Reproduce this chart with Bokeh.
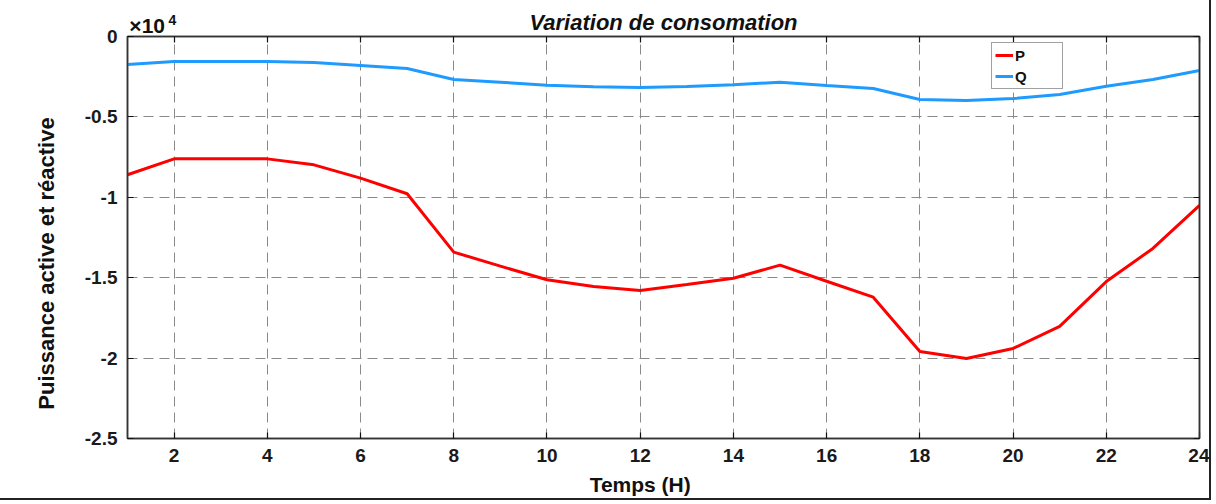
import numpy as np
from bokeh.plotting import figure
from bokeh.models import Range1d, LinearAxis, FixedTicker, Label, Legend, LegendItem, Grid
from bokeh.embed import file_html
from bokeh.resources import INLINE

# ---- data ----
hours = list(range(1, 25))
P = [-8600, -7610, -7610, -7610, -7980, -8810, -9780, -13410, -14280, -15130,
     -15550, -15800, -15420, -15030, -14220, -15220, -16210, -19590, -20020,
     -19400, -18030, -15240, -13180, -10500]
Q = [-1740, -1550, -1550, -1550, -1620, -1800, -1990, -2670, -2840, -3030,
     -3130, -3170, -3110, -3000, -2840, -3050, -3230, -3920, -3980, -3860,
     -3610, -3100, -2670, -2110]
x_ticks = [2, 4, 6, 8, 10, 12, 14, 16, 18, 20, 22, 24]
y_ticks = [-25000, -20000, -15000, -10000, -5000, 0]
y_tick_labels = ["-2.5", "-2", "-1.5", "-1", "-0.5", "0"]
title_text = "Variation de consomation"
x_label = "Temps (H)"
y_label = "Puissance active et réactive"
exp_text = "×10"
exp_sup = "4"

FONT = "Liberation Sans"
AX = "#333333"
TXT = "#111111"

W, H = 1211, 500
p = figure(width=W, height=H, output_backend="svg", toolbar_location=None,
           x_range=Range1d(1, 24), y_range=Range1d(-25000, 0),
           min_border_left=127, min_border_right=12, min_border_top=36,
           min_border_bottom=62, x_axis_location=None, y_axis_location=None)
# remove the figure's default grids before adding our own
p.xgrid.visible = False
p.ygrid.visible = False
p.styles = {"border-right": "2px solid #222222", "border-bottom": "2px solid #222222"}
p.outline_line_color = AX
p.outline_line_width = 1.5

def style_axis(ax):
    ax.axis_line_color = AX
    ax.axis_line_width = 1.5
    ax.major_tick_in = 6
    ax.major_tick_out = 0
    ax.major_tick_line_color = "#111111"
    ax.major_tick_line_width = 1.2
    ax.minor_tick_line_color = None
    ax.major_label_text_font = FONT
    ax.major_label_text_font_style = "bold"
    ax.major_label_text_font_size = "19px"
    ax.major_label_text_color = "#1a1a1a"
    ax.major_label_standoff = 10

xb = LinearAxis(ticker=FixedTicker(ticks=x_ticks))
style_axis(xb)
p.add_layout(xb, "below")
xt = LinearAxis(ticker=FixedTicker(ticks=x_ticks))
style_axis(xt)
xt.major_label_overrides = {t: "" for t in x_ticks}
xt.major_label_standoff = 0
p.add_layout(xt, "above")

yl = LinearAxis(ticker=FixedTicker(ticks=y_ticks))
style_axis(yl)
yl.major_label_overrides = {t: s for t, s in zip(y_ticks, y_tick_labels)}
p.add_layout(yl, "left")
yr = LinearAxis(ticker=FixedTicker(ticks=y_ticks))
style_axis(yr)
yr.major_label_overrides = {t: "" for t in y_ticks}
yr.major_label_standoff = 0
p.add_layout(yr, "right")

p.add_layout(Grid(dimension=0, ticker=xb.ticker, grid_line_color="#8a8a8a",
                  grid_line_dash="10 6", grid_line_width=1))
p.add_layout(Grid(dimension=1, ticker=yl.ticker, grid_line_color="#8a8a8a",
                  grid_line_dash="10 6", grid_line_width=1))

rp = p.line(hours, P, line_color="#ff0000", line_width=3)
rq = p.line(hours, Q, line_color="#1f9bff", line_width=3)

legend = Legend(items=[LegendItem(label="P", renderers=[rp]),
                       LegendItem(label="Q", renderers=[rq])],
                location=(864, 349), orientation="vertical",
                label_text_font=FONT, label_text_font_style="bold",
                label_text_font_size="15px", label_text_color=TXT,
                glyph_width=18, glyph_height=18, label_height=18, label_width=44,
                label_standoff=2, spacing=3, padding=3, margin=0,
                border_line_color="#444444", border_line_width=1,
                background_fill_color="white", background_fill_alpha=1)
p.add_layout(legend, "center")

# titles and labels placed in side panels (not clipped to the frame)
p.add_layout(Label(x=12.5, y=871, text=title_text, text_font=FONT,
                   text_font_style="bold italic", text_font_size="22px",
                   text_align="center", text_baseline="middle", text_color=TXT), "above")
p.add_layout(Label(x=1.04, y=700, text=exp_text, text_font=FONT,
                   text_font_style="bold", text_font_size="21px",
                   text_align="left", text_baseline="alphabetic", text_color=TXT), "left")
p.add_layout(Label(x=1.88, y=1000, text=exp_sup, text_font=FONT,
                   text_font_style="bold", text_font_size="14px",
                   text_align="left", text_baseline="alphabetic", text_color=TXT), "left")
p.add_layout(Label(x=12.0, y=-27861, text=x_label, text_font=FONT,
                   text_font_style="bold", text_font_size="21px",
                   text_align="center", text_baseline="middle", text_color=TXT), "below")
p.add_layout(Label(x=-0.738, y=-14117, text=y_label, text_font=FONT,
                   text_font_style="bold", text_font_size="22px", angle=np.pi / 2,
                   text_align="center", text_baseline="middle", text_color=TXT), "left")

open("out.html", "w").write(file_html(p, INLINE))
